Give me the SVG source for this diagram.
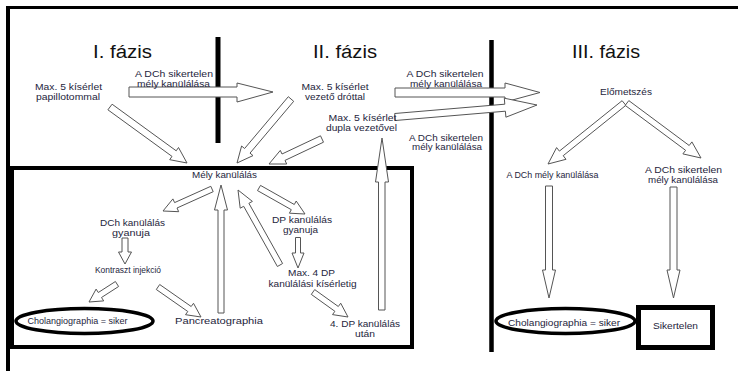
<svg xmlns="http://www.w3.org/2000/svg" width="738" height="371" viewBox="0 0 738 371">
<style>
.t{font-family:"Liberation Sans",Arial,sans-serif;font-size:9.3px;fill:#1e1e3c;text-anchor:middle}
.h{font-family:"Liberation Sans",Arial,sans-serif;font-size:18px;fill:#111;text-anchor:middle}
.ar{fill:#fff;stroke:#555;stroke-width:1;stroke-linejoin:miter}
.ln{stroke:#000;fill:none}
</style>
<rect x="0" y="0" width="738" height="371" fill="#fff"/>
<g id="frame">
<line class="ln" x1="6" y1="7.5" x2="738" y2="7.5" stroke-width="3"/>
<line class="ln" x1="8" y1="6" x2="8" y2="371" stroke-width="4"/>
<line class="ln" x1="218" y1="37" x2="218" y2="143" stroke-width="5"/>
<line class="ln" x1="491.5" y1="40" x2="491.5" y2="352" stroke-width="4.5"/>
<rect class="ln" x="12" y="168" width="400" height="179" stroke-width="4"/>
</g>
<g id="titles">
<text class="h" x="122.5" y="58" textLength="59" lengthAdjust="spacingAndGlyphs">I. fázis</text>
<text class="h" x="345" y="58" textLength="64" lengthAdjust="spacingAndGlyphs">II. fázis</text>
<text class="h" x="606" y="58" textLength="68" lengthAdjust="spacingAndGlyphs">III. fázis</text>
</g>
<g id="connectors">
<polygon class="ar" points="129,87 237,87 237,83 273,92 237,102 237,97 129,97"/>
<polygon class="ar" points="395,88 505,88 505,83 540,92.5 505,102 505,97 395,97"/>
<polygon class="ar" points="394.7,113.5 504.8,104.2 504.3,98.2 537,105 505.9,117.2 505.4,111.2 395.3,120.5"/>
<polygon class="ar" points="112.1,104.2 176.2,150.8 178.5,147.5 187,163 169.7,159.7 172,156.4 107.9,109.8"/>
<polygon class="ar" points="288.3,96.7 244.6,148.5 241.6,146 237,163 253,155.6 250,153.1 293.7,101.3"/>
<polygon class="ar" points="320.5,135.8 282,154 280.3,150.4 269,164 286.7,164 285,160.4 323.5,142.2"/>
<polygon class="ar" points="210.8,186.3 174.6,202.6 172.9,198.9 163,211 178.7,211.7 177,208 213.2,191.7"/>
<polygon class="ar" points="122,238 128,238 128,252 131.5,252 125,264 118.5,252 122,252"/>
<polygon class="ar" points="115.4,281.5 98.3,292.5 96.1,289.1 89,302 103.7,300.9 101.5,297.5 118.6,286.5"/>
<polygon class="ar" points="159.7,284.5 191.2,306.5 193.5,303.3 201,317 185.5,314.7 187.8,311.5 156.3,289.5"/>
<polygon class="ar" points="218,313 224,313 224,210 227.5,210 221,185 214.5,210 218,210"/>
<polygon class="ar" points="282.6,263.5 248.9,203.3 252.4,201.4 238,190 240.2,208.2 243.7,206.3 277.4,266.5"/>
<polygon class="ar" points="260.5,185.4 294.3,204.5 296.2,201 305,214 289.4,213.2 291.3,209.7 257.5,190.6"/>
<polygon class="ar" points="295.5,237.5 300.5,237.5 300.5,253 304,253 298,268 292,253 295.5,253"/>
<polygon class="ar" points="314.7,289.6 338.3,306.5 340.7,303.2 348,317 332.5,314.6 334.9,311.3 311.3,294.4"/>
<polygon class="ar" points="378.5,310 385,310 385,182 388.5,182 382,138 375.5,182 378.5,182"/>
<polygon class="ar" points="622.1,100.7 559.4,151.1 556.6,147.6 548,164 566,159.3 563.2,155.7 625.9,105.3"/>
<polygon class="ar" points="628.8,100.6 689.2,145.5 691.9,141.9 701,158 682.9,153.9 685.6,150.3 625.2,105.4"/>
<polygon class="ar" points="545.5,186 552.5,186 552.5,270 555.5,270 549,298 542.5,270 545.5,270"/>
<polygon class="ar" points="670,187 677,187 677,270 680,270 673.5,298 667,270 670,270"/>
</g>
<g id="n-papillotom">
<text class="t" x="68.5" y="90" textLength="67" lengthAdjust="spacingAndGlyphs">Max. 5 kísérlet</text>
<text class="t" x="68" y="99.5" textLength="64" lengthAdjust="spacingAndGlyphs">papillotommal</text>
</g>
<g id="l-sikertelen-1">
<text class="t" x="174" y="76.5" textLength="78" lengthAdjust="spacingAndGlyphs">A DCh sikertelen</text>
<text class="t" x="173.5" y="86.5" textLength="73" lengthAdjust="spacingAndGlyphs">mély kanülálása</text>
</g>
<g id="n-vezeto">
<text class="t" x="335" y="90" textLength="67" lengthAdjust="spacingAndGlyphs">Max. 5 kísérlet</text>
<text class="t" x="335" y="100" textLength="60" lengthAdjust="spacingAndGlyphs">vezető dróttal</text>
</g>
<g id="n-dupla">
<text class="t" x="362.5" y="120.5" textLength="68" lengthAdjust="spacingAndGlyphs">Max. 5 kísérlet</text>
<text class="t" x="361.5" y="130.5" textLength="71" lengthAdjust="spacingAndGlyphs">dupla vezetővel</text>
</g>
<g id="l-sikertelen-2">
<text class="t" x="445" y="77" textLength="77" lengthAdjust="spacingAndGlyphs">A DCh sikertelen</text>
<text class="t" x="446" y="87" textLength="72" lengthAdjust="spacingAndGlyphs">mély kanülálása</text>
</g>
<g id="l-sikertelen-3">
<text class="t" x="446" y="140.5" textLength="74" lengthAdjust="spacingAndGlyphs">A DCh sikertelen</text>
<text class="t" x="447" y="150" textLength="70" lengthAdjust="spacingAndGlyphs">mély kanülálása</text>
</g>
<g id="n-elometszes">
<text class="t" x="626" y="95" textLength="52" lengthAdjust="spacingAndGlyphs">Előmetszés</text>
</g>
<g id="n-mely">
<text class="t" x="224.5" y="178" textLength="65" lengthAdjust="spacingAndGlyphs">Mély kanülálás</text>
</g>
<g id="n-dch-gyanu">
<text class="t" x="132.5" y="226" textLength="65" lengthAdjust="spacingAndGlyphs">DCh kanülálás</text>
<text class="t" x="131" y="236" textLength="38" lengthAdjust="spacingAndGlyphs">gyanuja</text>
</g>
<g id="n-kontraszt">
<text class="t" x="128" y="273" textLength="66" lengthAdjust="spacingAndGlyphs">Kontraszt injekció</text>
</g>
<g id="n-chol-1">
<ellipse cx="84.5" cy="321" rx="68.5" ry="12.5" fill="none" stroke="#000" stroke-width="3.5"/>
<text class="t" x="77.5" y="324" textLength="100" lengthAdjust="spacingAndGlyphs">Cholangiographia = siker</text>
</g>
<g id="n-pancreato">
<text class="t" x="219" y="324" textLength="88" lengthAdjust="spacingAndGlyphs">Pancreatographia</text>
</g>
<g id="n-dp-gyanu">
<text class="t" x="302" y="223" textLength="60" lengthAdjust="spacingAndGlyphs">DP kanülálás</text>
<text class="t" x="300.5" y="233" textLength="35" lengthAdjust="spacingAndGlyphs">gyanuja</text>
</g>
<g id="n-max4">
<text class="t" x="311.5" y="276" textLength="47" lengthAdjust="spacingAndGlyphs">Max. 4 DP</text>
<text class="t" x="312.5" y="286.5" textLength="88" lengthAdjust="spacingAndGlyphs">kanülálási kísérletig</text>
</g>
<g id="n-4dp">
<text class="t" x="365" y="327" textLength="70" lengthAdjust="spacingAndGlyphs">4. DP kanülálás</text>
<text class="t" x="365" y="337" textLength="20" lengthAdjust="spacingAndGlyphs">után</text>
</g>
<g id="n-dch-mely">
<text class="t" x="552.5" y="178" textLength="92" lengthAdjust="spacingAndGlyphs">A DCh mély kanülálása</text>
</g>
<g id="n-dch-sikertelen">
<text class="t" x="683.5" y="173" textLength="77" lengthAdjust="spacingAndGlyphs">A DCh sikertelen</text>
<text class="t" x="683" y="183" textLength="70" lengthAdjust="spacingAndGlyphs">mély kanülálása</text>
</g>
<g id="n-chol-3">
<ellipse cx="565.5" cy="321" rx="69.5" ry="12.5" fill="none" stroke="#000" stroke-width="3.5"/>
<text class="t" x="564" y="326" textLength="112" lengthAdjust="spacingAndGlyphs">Cholangiographia = siker</text>
</g>
<g id="n-sikertelen">
<rect x="638.5" y="307.5" width="74" height="40" fill="#fff" stroke="#000" stroke-width="5"/>
<text class="t" x="675.5" y="329" textLength="45" lengthAdjust="spacingAndGlyphs">Sikertelen</text>
</g>
</svg>
